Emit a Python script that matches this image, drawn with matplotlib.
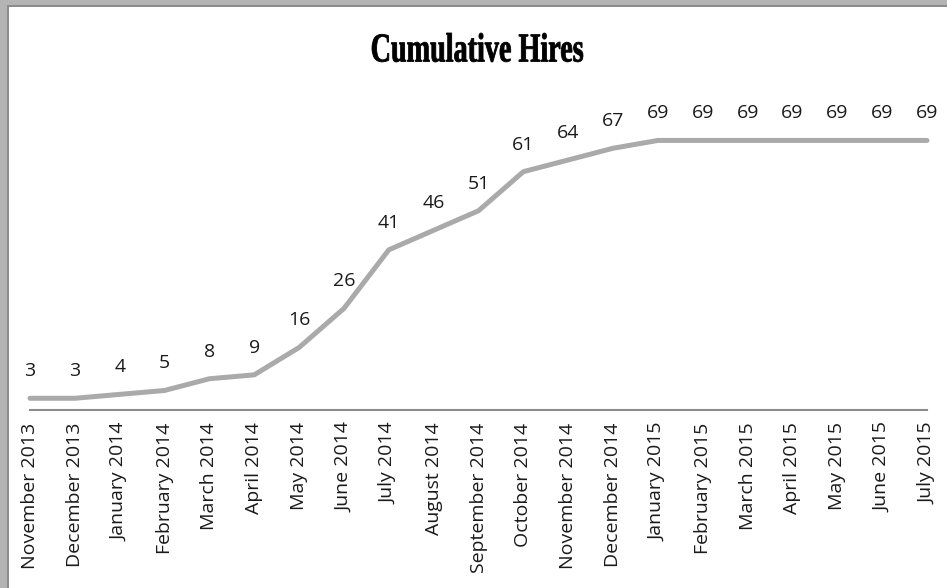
import matplotlib
matplotlib.use("Agg")
import matplotlib.pyplot as plt
from matplotlib.patches import Rectangle, PathPatch
from matplotlib.textpath import TextPath
from matplotlib.font_manager import FontProperties
from matplotlib.transforms import Affine2D, IdentityTransform

months = ["November 2013", "December 2013", "January 2014", "February 2014",
          "March 2014", "April 2014", "May 2014", "June 2014", "July 2014",
          "August 2014", "September 2014", "October 2014", "November 2014",
          "December 2014", "January 2015", "February 2015", "March 2015",
          "April 2015", "May 2015", "June 2015", "July 2015"]
hires = [3, 3, 4, 5, 8, 9, 16, 26, 41, 46, 51, 61, 64, 67, 69, 69, 69, 69, 69, 69, 69]
title = "Cumulative Hires"

W, H = 947, 588
fig = plt.figure(figsize=(W / 100, H / 100), dpi=100)
fig.patch.set_facecolor("#b4b4b4")

# white chart area with darker inner edge, like the Excel frame
fig.patches.append(Rectangle((7 / W, 0), 1, 1 - 5 / H, transform=fig.transFigure,
                             facecolor="#8c8c8c", edgecolor="none", zorder=0))
fig.patches.append(Rectangle((9 / W, 0), 1, 1 - 7 / H, transform=fig.transFigure,
                             facecolor="white", edgecolor="none", zorder=0))

# plot area: x axis line at y=410 px, ~3.9 px per hire
ax = fig.add_axes([30 / W, (H - 410) / H, 897 / W, 351.6 / H])
ax.set_zorder(2)
ax.set_facecolor("none")

x = list(range(len(months)))
ax.plot(x, hires, color="#aaaaaa", linewidth=3.6, solid_capstyle="round",
        solid_joinstyle="round", clip_on=False)

for xi, v in zip(x, hires):
    ax.annotate(str(v), (xi, v), xytext=(0, 19.5), textcoords="offset points",
                ha="center", va="center", fontsize=14, color="#1a1a1a",
                family="Open Sans")

ax.set_xlim(0, len(months) - 1)
ax.set_ylim(0, 90)
ax.set_yticks([])
ax.set_xticks(x)
ax.set_xticklabels(months, rotation=90, fontsize=14, family="Open Sans",
                   va="top", ha="center", color="#1a1a1a")
ax.tick_params(axis="x", length=0, pad=9)
for side in ["top", "right", "left"]:
    ax.spines[side].set_visible(False)
ax.spines["bottom"].set_color("#8c8c8c")
ax.spines["bottom"].set_linewidth(1.5)

# condensed title: squeeze a bold text path to the width of the original
tp = TextPath((0, 0), title, size=40,
              prop=FontProperties(family="Liberation Serif", weight="bold"))
bb = tp.get_extents()
sx = 211 / bb.width
sy = 29 / bb.height
x0 = 372
y0 = H - 62
trans = Affine2D().translate(-bb.x0, -bb.y0).scale(sx, sy).translate(x0, y0)
fig.patches.append(PathPatch(trans.transform_path(tp), transform=IdentityTransform(),
                             facecolor="black", edgecolor="black", linewidth=0.6,
                             zorder=3))

fig.savefig("out.png", dpi=100)
